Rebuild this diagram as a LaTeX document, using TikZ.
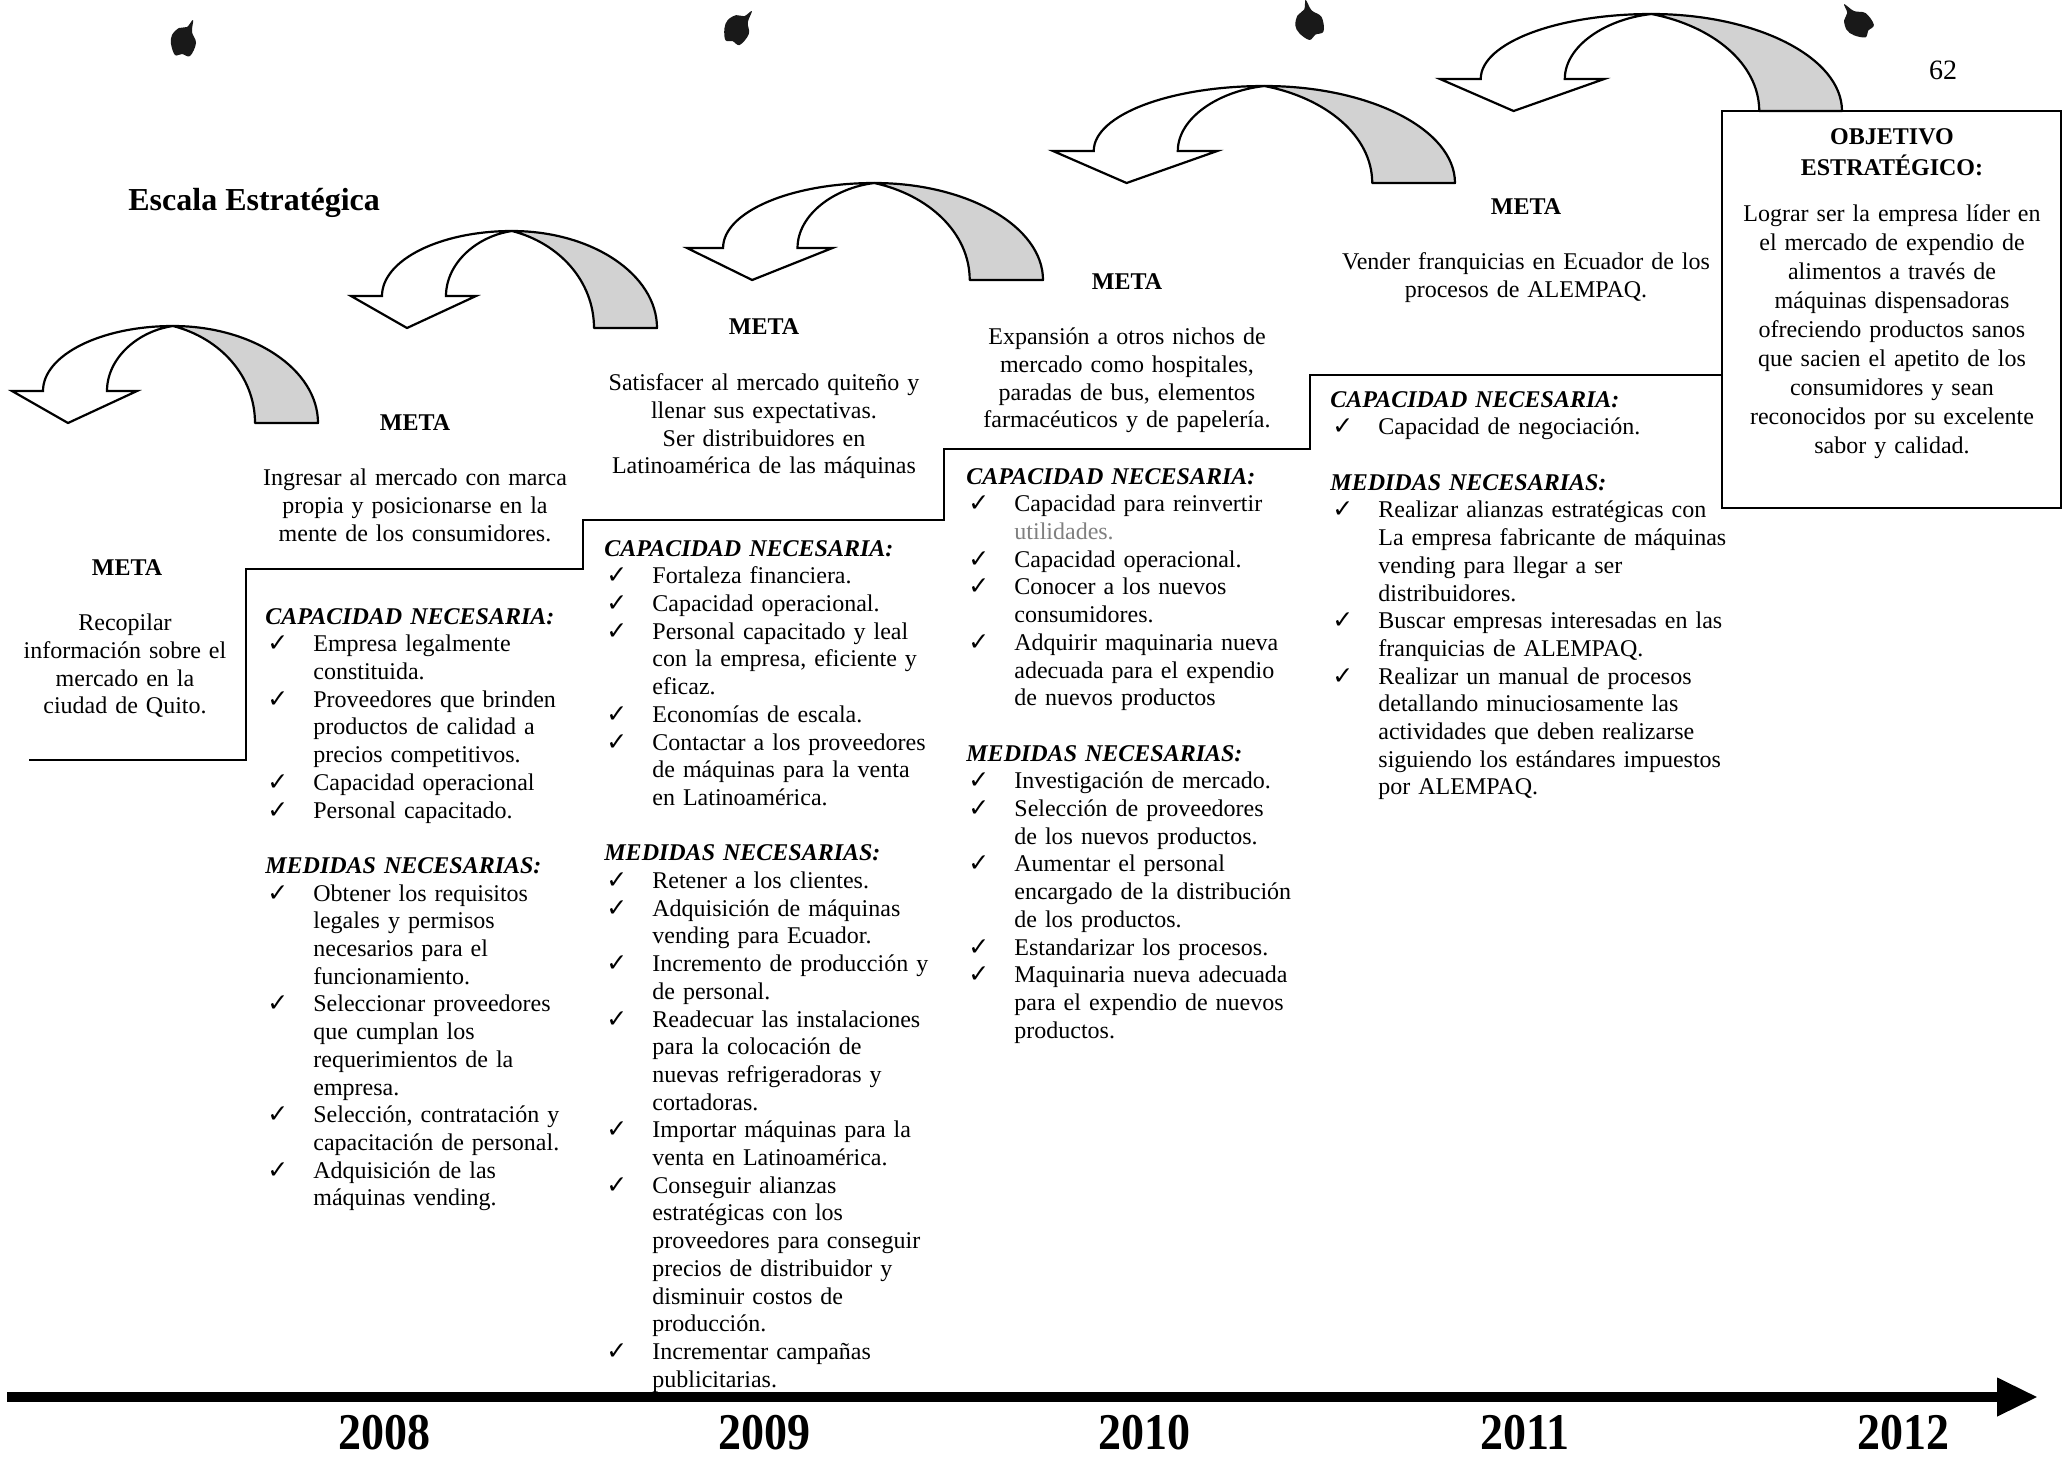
\documentclass[tikz,border=0pt]{standalone}
\usepackage{fontspec}
\usepackage{graphicx}
\setmainfont{Liberation Serif}
\newfontfamily\ckfont{DejaVu Sans}
\usetikzlibrary{arrows.meta}
\newcommand\ck{{\ckfont\fontsize{12.5}{12.5}\selectfont ✓}}
\newcommand\itm{\par\noindent\hangindent=24pt\hangafter=1\makebox[24pt][l]{\hspace{1pt}\ck}}
\newcommand\hd[1]{\par\noindent\strut{\bfseries\itshape #1}}
\newcommand\gap{\par\vspace{13.85pt}}
\newcommand\nl{\newline}
\tikzset{
  metalabel/.style={font=\bfseries\fontsize{12}{14}\selectfont, inner sep=0pt},
  mtext/.style={font=\fontsize{12}{13.85}\selectfont, align=center, anchor=north, inner sep=0pt, text width=#1},
  collist/.style={font=\fontsize{12}{13.85}\selectfont, align=left, anchor=north west, inner sep=0pt, text width=#1},
  yearlabel/.style={font=\bfseries\fontsize{23}{23}\selectfont, inner sep=0pt},
  stair/.style={line width=1pt, line join=miter},
  curvarrow/.pic={
    \path[draw=black, line width=1.1pt, fill=gray!35, line join=round]
      (161,0) .. controls (241,0) and (306,43.5) .. (306,97) -- (243,97)
      .. controls (243,50) and (208,12) .. (161,0) -- cycle;
    \path[draw=black, line width=1.1pt, fill=white, line join=miter]
      (95,65) -- (125,65) -- (56,97) -- (0,65) -- (31,65)
      .. controls (31,29) and (89,0) .. (161,0)
      .. controls (126,5) and (95,32) .. (95,65) -- cycle;
  },
  blob/.pic={
    \fill[black!90] plot[smooth cycle, tension=0.6] coordinates
      {(-12,-5) (-5,-12) (3,-13) (9,-20) (8,-8) (12,3) (6,16) (-2,14) (-9,15) (-13,4)};
  }
}
\begin{document}
\begin{tikzpicture}[x=0.5pt, y=-0.5pt]
\useasboundingbox (0,0) rectangle (2067,1457);

% ink blobs
\pic at (184,40) {blob};
\pic[rotate=-15] at (738,28) {blob};
\pic[rotate=35, xscale=1.1] at (1309,22) {blob};
\pic[rotate=60] at (1857,22) {blob};

% page number
\node[font=\fontsize{14}{14}\selectfont, inner sep=0pt] (pagenum) at (1943,70) {62};

% title
\node[font=\bfseries\fontsize{16}{18}\selectfont, anchor=west, inner sep=0pt] (title) at (128,203) {Escala Estratégica};

% curved arrows
\pic at (12,326) {curvarrow};
\pic at (351,231) {curvarrow};
\pic[xscale=1.1634] at (687,183) {curvarrow};
\pic[xscale=1.3137] at (1053,86) {curvarrow};
\pic[xscale=1.3137] at (1440,14) {curvarrow};

% staircase
\draw[stair] (29,760) -- (246,760) -- (246,569) -- (583,569) -- (583,520)
  -- (944,520) -- (944,449) -- (1310,449) -- (1310,375) -- (1722,375);

% objective box
\node[draw, line width=1.2pt, minimum width=169.5pt, minimum height=198.5pt, inner sep=0pt] (obj) at (1891.5,309.5) {};
\node[font=\bfseries\fontsize{12}{13.8}\selectfont, align=center, anchor=north, inner sep=0pt, text width=160pt] (objhead) at (1892,125) {\strut OBJETIVO\\ESTRATÉGICO:};
\node[font=\fontsize{12}{14.5}\selectfont, align=center, anchor=north, inner sep=0pt, text width=165pt] (objtext) at (1892,201) {\strut Lograr ser la empresa líder en\\el mercado de expendio de\\alimentos a través de\\máquinas dispensadoras\\ofreciendo productos sanos\\que sacien el apetito de los\\consumidores y sean\\reconocidos por su excelente\\sabor y calidad.};

% column 1
\node[metalabel] (meta1) at (127,568) {META};
\node[mtext=120pt] (goal1) at (125,611) {\strut Recopilar\\información sobre el\\mercado en la\\ciudad de Quito.};

% column 2
\node[metalabel] (meta2) at (415,423) {META};
\node[mtext=170pt] (goal2) at (415,466) {\strut Ingresar al mercado con marca\\propia y posicionarse en la\\mente de los consumidores.};
\node[collist=190pt] (list2) at (265,596) {%
\hd{CAPACIDAD NECESARIA:}
\itm Empresa legalmente\nl constituida.
\itm Proveedores que brinden\nl productos de calidad a\nl precios competitivos.
\itm Capacidad operacional
\itm Personal capacitado.
\gap
\hd{MEDIDAS NECESARIAS:}
\itm Obtener los requisitos\nl legales y permisos\nl necesarios para el\nl funcionamiento.
\itm Seleccionar proveedores\nl que cumplan los\nl requerimientos de la\nl empresa.
\itm Selección, contratación y\nl capacitación de personal.
\itm Adquisición de las\nl máquinas vending.\par};

% column 3
\node[metalabel] (meta3) at (764,327) {META};
\node[mtext=175pt] (goal3) at (764,371) {\strut Satisfacer al mercado quiteño y\\llenar sus expectativas.\\Ser distribuidores en\\Latinoamérica de las máquinas};
\node[collist=190pt] (list3) at (604,528) {%
\hd{CAPACIDAD NECESARIA:}
\itm Fortaleza financiera.
\itm Capacidad operacional.
\itm Personal capacitado y leal\nl con la empresa, eficiente y\nl eficaz.
\itm Economías de escala.
\itm Contactar a los proveedores\nl de máquinas para la venta\nl en Latinoamérica.
\gap
\hd{MEDIDAS NECESARIAS:}
\itm Retener a los clientes.
\itm Adquisición de máquinas\nl vending para Ecuador.
\itm Incremento de producción y\nl de personal.
\itm Readecuar las instalaciones\nl para la colocación de\nl nuevas refrigeradoras y\nl cortadoras.
\itm Importar máquinas para la\nl venta en Latinoamérica.
\itm Conseguir alianzas\nl estratégicas con los\nl proveedores para conseguir\nl precios de distribuidor y\nl disminuir costos de\nl producción.
\itm Incrementar campañas\nl publicitarias.\par};

% column 4
\node[metalabel] (meta4) at (1127,282) {META};
\node[mtext=170pt] (goal4) at (1127,325) {\strut Expansión a otros nichos de\\mercado como hospitales,\\paradas de bus, elementos\\farmacéuticos y de papelería.};
\node[collist=190pt] (list4) at (966,456) {%
\hd{CAPACIDAD NECESARIA:}
\itm Capacidad para reinvertir\nl {\color{gray}utilidades.}
\itm Capacidad operacional.
\itm Conocer a los nuevos\nl consumidores.
\itm Adquirir maquinaria nueva\nl adecuada para el expendio\nl de nuevos productos
\gap
\hd{MEDIDAS NECESARIAS:}
\itm Investigación de mercado.
\itm Selección de proveedores\nl de los nuevos productos.
\itm Aumentar el personal\nl encargado de la distribución\nl de los productos.
\itm Estandarizar los procesos.
\itm Maquinaria nueva adecuada\nl para el expendio de nuevos\nl productos.\par};

% column 5
\node[metalabel] (meta5) at (1526,207) {META};
\node[mtext=200pt] (goal5) at (1526,250) {\strut Vender franquicias en Ecuador de los\\procesos de ALEMPAQ.};
\node[collist=215pt] (list5) at (1330,379) {%
\hd{CAPACIDAD NECESARIA:}
\itm Capacidad de negociación.
\gap
\hd{MEDIDAS NECESARIAS:}
\itm Realizar alianzas estratégicas con\nl La empresa fabricante de máquinas\nl vending para llegar a ser\nl distribuidores.
\itm Buscar empresas interesadas en las\nl franquicias de ALEMPAQ.
\itm Realizar un manual de procesos\nl detallando minuciosamente las\nl actividades que deben realizarse\nl siguiendo los estándares impuestos\nl por ALEMPAQ.\par};

% timeline
\coordinate (tlstart) at (7,1397);
\coordinate (tlend) at (2038,1397);
\draw[line width=5pt, -{Triangle[length=20.5pt, width=18pt]}] (tlstart) -- (tlend);
\node[yearlabel] (y2008) at (384,1433) {\scalebox{1}[1.12]{2008}};
\node[yearlabel] (y2009) at (764,1433) {\scalebox{1}[1.12]{2009}};
\node[yearlabel] (y2010) at (1144,1433) {\scalebox{1}[1.12]{2010}};
\node[yearlabel] (y2011) at (1525,1433) {\scalebox{1}[1.12]{2011}};
\node[yearlabel] (y2012) at (1903,1433) {\scalebox{1}[1.12]{2012}};
\end{tikzpicture}
\end{document}
